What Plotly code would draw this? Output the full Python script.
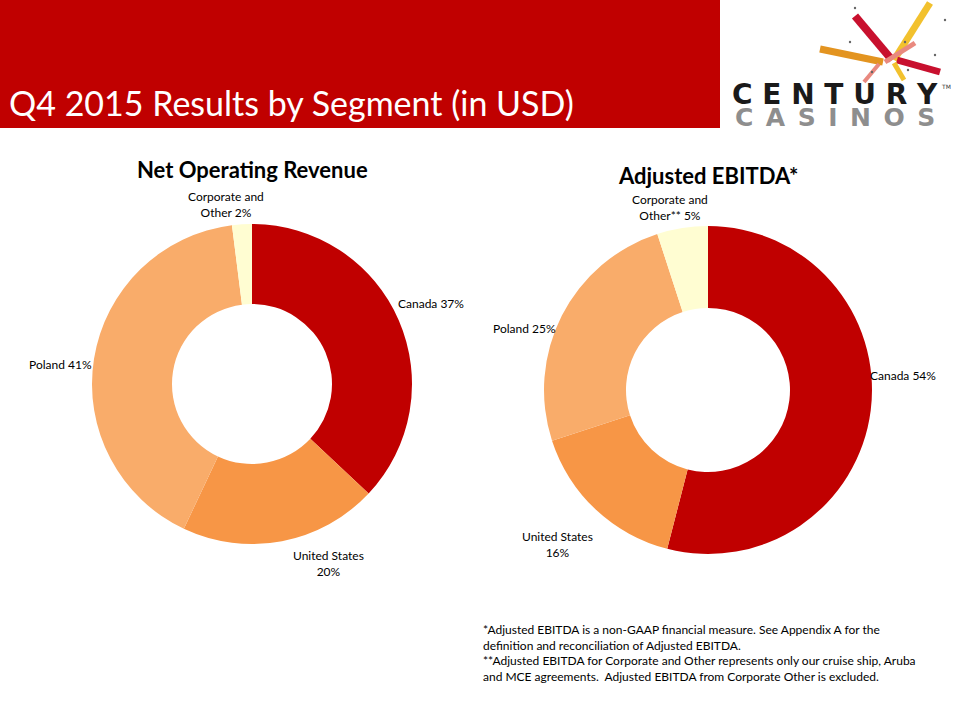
import plotly.graph_objects as go

# ---- data ----
segments = ["Canada", "United States", "Poland", "Corporate and Other"]
revenue_pct = [37, 20, 41, 2]
ebitda_pct = [54, 16, 25, 5]
seg_colors = ["#C00000", "#F79646", "#F9AC6A", "#FFFDD2"]

rev_labels = ["Canada 37%", "United States<br>20%", "Poland 41%", "Corporate and<br>Other 2%"]
ebitda_labels = ["Canada 54%", "United States<br>16%", "Poland 25%", "Corporate and<br>Other** 5%"]

W, H = 960, 720

def px(x):
    return x / W

def py(y):
    return 1 - y / H

fig = go.Figure()

# left donut: center (252,384), r 160
fig.add_trace(go.Pie(
    labels=segments, values=revenue_pct, hole=0.5, sort=False,
    direction="clockwise", rotation=0,
    marker=dict(colors=seg_colors, line=dict(width=0)),
    textinfo="none", hoverinfo="label+percent", showlegend=False,
    domain=dict(x=[px(92), px(412)], y=[py(544), py(224)]),
))
# right donut: center (708,390), r 164
fig.add_trace(go.Pie(
    labels=segments, values=ebitda_pct, hole=0.5, sort=False,
    direction="clockwise", rotation=0,
    marker=dict(colors=seg_colors, line=dict(width=0)),
    textinfo="none", hoverinfo="label+percent", showlegend=False,
    domain=dict(x=[px(544), px(872)], y=[py(554), py(226)]),
))

shapes = []
# header band
shapes.append(dict(type="rect", xref="paper", yref="paper",
                   x0=0, x1=px(720), y0=py(128), y1=1,
                   fillcolor="#C00000", line=dict(width=0), layer="below"))
# logo streaks
streaks = [
    ((820, 49), (883, 62), "#E39420", 7),
    ((855, 16), (892, 60), "#C8102E", 8),
    ((930, 3), (894, 60), "#F2C12E", 7),
    ((885, 62), (915, 43), "#E9897F", 5),
    ((897, 60), (940, 72), "#C8102E", 7),
    ((879, 64), (864, 82), "#E9897F", 4),
    ((894, 63), (904, 80), "#F2C12E", 5),
]
for (x0, y0), (x1, y1), c, w in streaks:
    shapes.append(dict(type="line", xref="paper", yref="paper",
                       x0=px(x0), y0=py(y0), x1=px(x1), y1=py(y1),
                       line=dict(color=c, width=w)))
for (dx, dy) in [(855, 8), (945, 20), (850, 42), (905, 42), (935, 55), (872, 72), (908, 70)]:
    shapes.append(dict(type="circle", xref="paper", yref="paper",
                       x0=px(dx - 1.2), x1=px(dx + 1.2), y0=py(dy + 1.2), y1=py(dy - 1.2),
                       fillcolor="#666666", line=dict(width=0)))

ann = []
ann.append(dict(text="Q4 2015 Results by Segment (in USD)", x=px(7), y=py(103),
                xref="paper", yref="paper", xanchor="left", yanchor="middle",
                showarrow=False, font=dict(family="Lato", size=34, color="white")))
ann.append(dict(text="<b>C E N T U R Y</b>", x=px(835), y=py(95), xref="paper", yref="paper",
                xanchor="center", yanchor="middle", showarrow=False,
                font=dict(family="DejaVu Sans", size=28, color="#1A1A1A")))
ann.append(dict(text="<b>C\u2002A\u2002S\u2002I\u2002N\u2002O\u2002S</b>", x=px(835), y=py(118),
                xref="paper", yref="paper",
                xanchor="center", yanchor="middle", showarrow=False,
                font=dict(family="DejaVu Sans", size=25, color="#8E8E8E")))
ann.append(dict(text="TM", x=px(946), y=py(86), xref="paper", yref="paper",
                xanchor="center", yanchor="middle", showarrow=False,
                font=dict(family="DejaVu Sans", size=6, color="#333333")))

# chart titles
ann.append(dict(text="<b>Net Operating Revenue</b>", x=px(252), y=py(169), xref="paper", yref="paper",
                xanchor="center", yanchor="middle", showarrow=False,
                font=dict(family="Lato", size=22, color="#000000")))
ann.append(dict(text="<b>Adjusted EBITDA*</b>", x=px(708), y=py(175), xref="paper", yref="paper",
                xanchor="center", yanchor="middle", showarrow=False,
                font=dict(family="Lato", size=22, color="#000000")))

# slice labels
rev_pos = [(431, 303), (328, 563), (60, 364), (226, 204)]
ebi_pos = [(903, 375), (557, 544), (524, 329), (670, 208)]
for t, (x, y) in zip(rev_labels, rev_pos):
    ann.append(dict(text=t, x=px(x), y=py(y), xref="paper", yref="paper",
                    xanchor="center", yanchor="middle", showarrow=False,
                    font=dict(family="Lato", size=12, color="#000000")))
for t, (x, y) in zip(ebitda_labels, ebi_pos):
    ann.append(dict(text=t, x=px(x), y=py(y), xref="paper", yref="paper",
                    xanchor="center", yanchor="middle", showarrow=False,
                    font=dict(family="Lato", size=12, color="#000000")))

footnote = ("*Adjusted EBITDA is a non-GAAP financial measure. See Appendix A for the<br>"
            "definition and reconciliation of Adjusted EBITDA.<br>"
            "**Adjusted EBITDA for Corporate and Other represents only our cruise ship, Aruba<br>"
            "and MCE agreements.  Adjusted EBITDA from Corporate Other is excluded.")
ann.append(dict(text=footnote, x=px(481), y=py(620), xref="paper", yref="paper",
                xanchor="left", yanchor="top", align="left", showarrow=False,
                font=dict(family="Lato", size=12, color="#000000")))

fig.update_layout(
    width=W, height=H, margin=dict(l=0, r=0, t=0, b=0),
    paper_bgcolor="white", plot_bgcolor="white",
    shapes=shapes, annotations=ann, showlegend=False,
)

fig.write_html("out.html")
